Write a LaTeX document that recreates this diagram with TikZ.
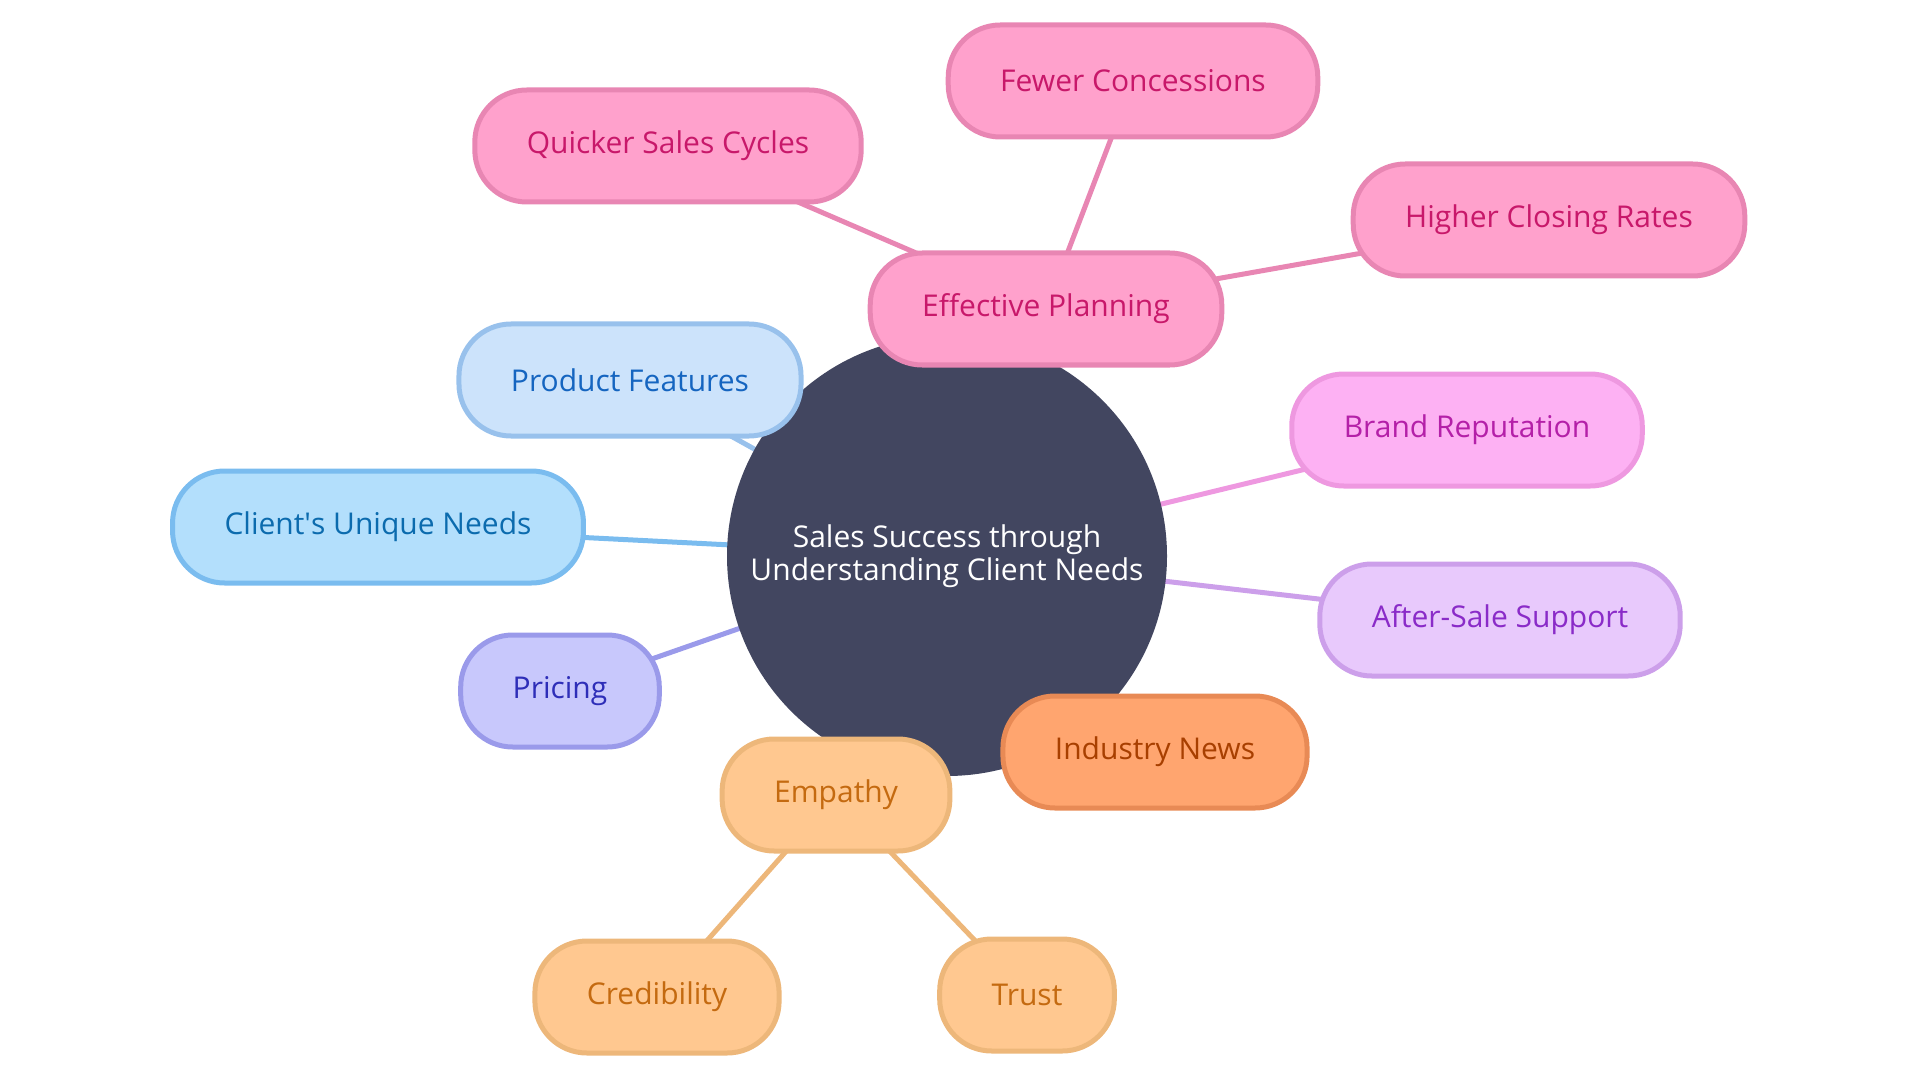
\documentclass[tikz,border=0pt]{standalone}
\usepackage{fontspec}
\setmainfont{Open Sans}
\usetikzlibrary{backgrounds}

\definecolor{hubfill}{HTML}{424660}
\definecolor{pinkfill}{HTML}{FFA1CC}
\definecolor{pinkline}{HTML}{E886B3}
\definecolor{pinktext}{HTML}{C8186A}
\definecolor{featfill}{HTML}{CCE3FB}
\definecolor{featline}{HTML}{98C1EC}
\definecolor{feattext}{HTML}{1565C0}
\definecolor{needfill}{HTML}{B3DFFC}
\definecolor{needline}{HTML}{7ABCEF}
\definecolor{needtext}{HTML}{0B6BAE}
\definecolor{pricefill}{HTML}{C8C8FC}
\definecolor{priceline}{HTML}{9A9AEA}
\definecolor{pricetext}{HTML}{2E2EB8}
\definecolor{brandfill}{HTML}{FDB1F3}
\definecolor{brandline}{HTML}{EE98E0}
\definecolor{brandtext}{HTML}{B420A8}
\definecolor{supfill}{HTML}{E8C9FC}
\definecolor{supline}{HTML}{CC9FEA}
\definecolor{suptext}{HTML}{8A2BC8}
\definecolor{newsfill}{HTML}{FFA56F}
\definecolor{newsline}{HTML}{E88A55}
\definecolor{newstext}{HTML}{A83F00}
\definecolor{empfill}{HTML}{FFC890}
\definecolor{empline}{HTML}{EDB77A}
\definecolor{emptext}{HTML}{C46A10}

\begin{document}
\begin{tikzpicture}[x=0.5pt,y=-0.5pt,
  leaf/.style={draw,line width=2.5pt,rounded corners=26pt,minimum height=56pt,
    inner xsep=26pt,font=\fontsize{15}{18}\selectfont},
  pinkleaf/.style={leaf,fill=pinkfill,draw=pinkline,text=pinktext},
  featleaf/.style={leaf,fill=featfill,draw=featline,text=feattext},
  needleaf/.style={leaf,fill=needfill,draw=needline,text=needtext},
  priceleaf/.style={leaf,fill=pricefill,draw=priceline,text=pricetext},
  brandleaf/.style={leaf,fill=brandfill,draw=brandline,text=brandtext},
  supleaf/.style={leaf,fill=supfill,draw=supline,text=suptext},
  newsleaf/.style={leaf,fill=newsfill,draw=newsline,text=newstext},
  empleaf/.style={leaf,fill=empfill,draw=empline,text=emptext},
  link/.style={line width=2.5pt}]
\useasboundingbox (0,0) rectangle (1920,1080);

\node[circle,fill=hubfill,text=white,minimum size=220pt,inner sep=0pt,align=center,
  font=\fontsize{15}{16.5}\selectfont] (hub) at (947,556)
  {Sales Success through\\Understanding Client Needs};

\node[pinkleaf] (plan) at (1046,309) {Effective Planning};
\node[pinkleaf] (cycles) at (668,146) {Quicker Sales Cycles};
\node[pinkleaf] (conc) at (1133,81) {Fewer Concessions};
\node[pinkleaf] (close) at (1549,220) {Higher Closing Rates};

\node[featleaf] (feat) at (630,380) {Product Features};
\node[needleaf] (needs) at (378,527) {Client\textquotesingle s Unique Needs};
\node[priceleaf] (price) at (560,691) {Pricing};

\node[brandleaf] (brand) at (1467,430) {Brand Reputation};
\node[supleaf] (support) at (1500,620) {After-Sale Support};
\node[newsleaf] (news) at (1155,752) {Industry News};

\node[empleaf] (emp) at (836,795) {Empathy};
\node[empleaf] (cred) at (657,997) {Credibility};
\node[empleaf] (trust) at (1027,995) {Trust};

\begin{scope}[on background layer]
\draw[link,pinkline] (hub.center) -- (plan.center);
\draw[link,pinkline] (plan.center) -- (cycles.center);
\draw[link,pinkline] (plan.center) -- (conc.center);
\draw[link,pinkline] (plan.center) -- (close.center);
\draw[link,featline] (hub.center) -- (feat.center);
\draw[link,needline] (hub.center) -- (needs.center);
\draw[link,priceline] (hub.center) -- (price.center);
\draw[link,brandline] (hub.center) -- (brand.center);
\draw[link,supline] (hub.center) -- (support.center);
\draw[link,newsline] (hub.center) -- (news.center);
\draw[link,empline] (hub.center) -- (emp.center);
\draw[link,empline] (emp.center) -- (cred.center);
\draw[link,empline] (emp.center) -- (trust.center);
\end{scope}
\end{tikzpicture}
\end{document}
